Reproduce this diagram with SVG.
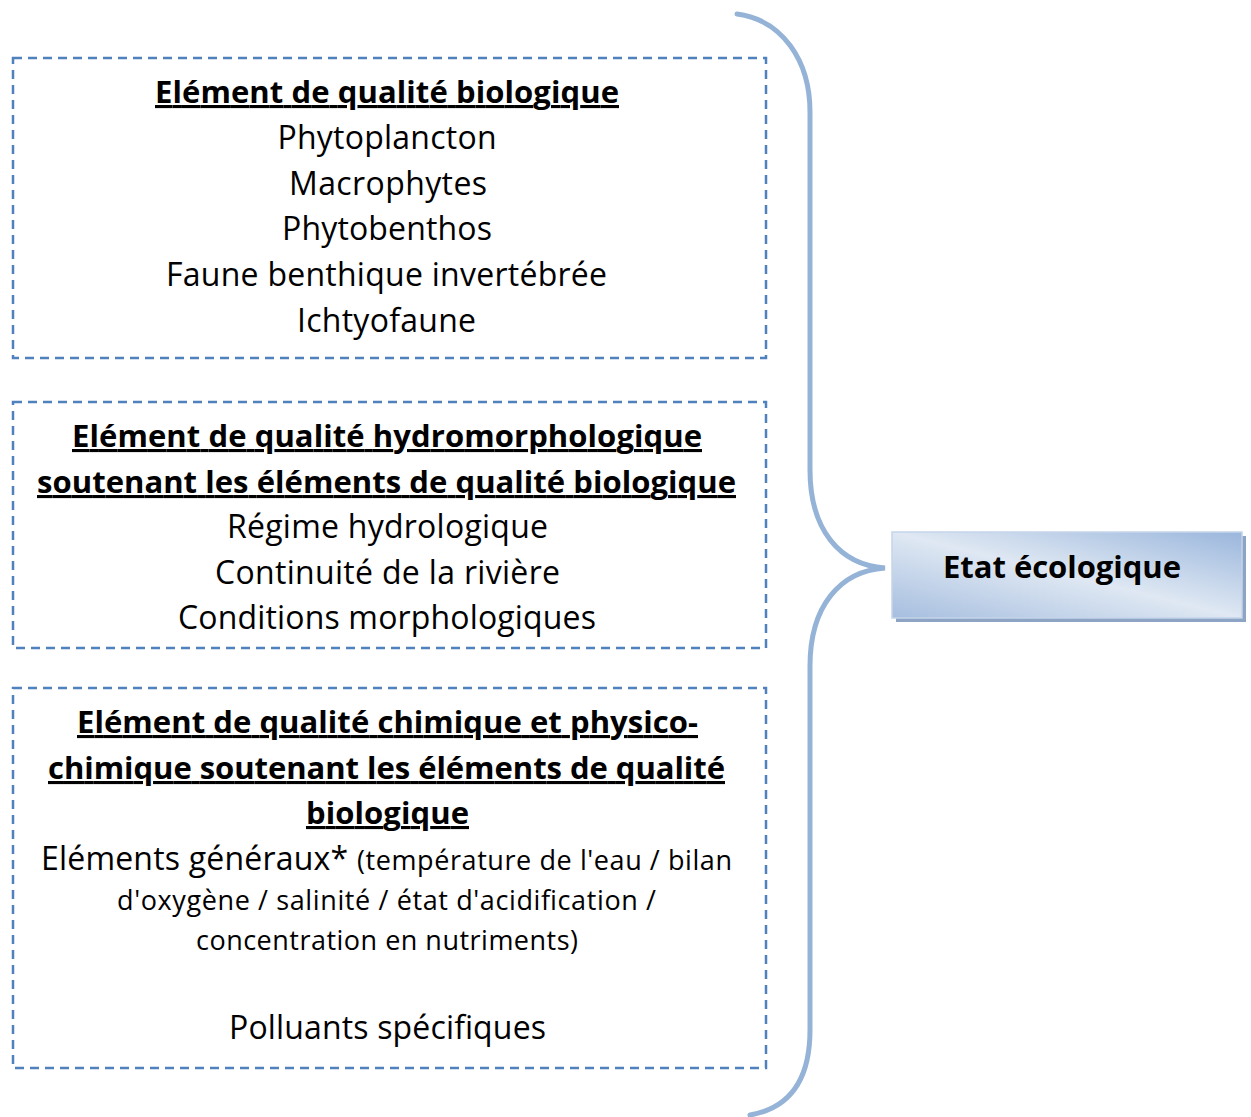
<svg xmlns="http://www.w3.org/2000/svg" width="1251" height="1117" viewBox="0 0 1251 1117">
<style>
.box{fill:none;stroke:#4F81BD;stroke-width:2.5;stroke-dasharray:9 6}
.t{font-family:"Open Sans","Noto Sans",sans-serif;font-size:32px;fill:#000;text-anchor:middle}
.s{font-family:"Open Sans","Noto Sans",sans-serif;font-size:27px;fill:#000;text-anchor:middle}
.b{font-family:"Open Sans","Noto Sans",sans-serif;font-size:31px;font-weight:bold;fill:#000;text-anchor:middle;text-decoration:underline}
.brace{fill:none;stroke:#95B3D7;stroke-width:5;stroke-linecap:round}
</style>
<defs>
<linearGradient id="g" x1="0" y1="1" x2="1" y2="0">
<stop offset="0" stop-color="#a6bedf"/>
<stop offset="0.5" stop-color="#dfe8f3"/>
<stop offset="1" stop-color="#9ab6dc"/>
</linearGradient>
</defs>
<g id="connectors">
<path class="brace" d="M737,14 C782,20 810,60 810,112 L810,470 C810,530 840,565 885,568 C840,571 810,606 810,666 L810,1030 C810,1080 790,1108 750,1115"/>
</g>
<g id="bio">
<rect class="box" x="13" y="58" width="753" height="300"/>
<text class="b" x="387" y="103" textLength="464">Elément de qualité biologique</text>
<text class="t" x="387" y="149" textLength="219">Phytoplancton</text>
<text class="t" x="388" y="195" textLength="198">Macrophytes</text>
<text class="t" x="387" y="240" textLength="210">Phytobenthos</text>
<text class="t" x="386.5" y="286" textLength="441">Faune benthique invertébrée</text>
<text class="t" x="386.5" y="332" textLength="179">Ichtyofaune</text>
</g>
<g id="hydro">
<rect class="box" x="13" y="402" width="753" height="246"/>
<text class="b" x="387" y="447" textLength="630">Elément de qualité hydromorphologique</text>
<text class="b" x="386.5" y="493" textLength="699">soutenant les éléments de qualité biologique</text>
<text class="t" x="387.5" y="538" textLength="321">Régime hydrologique</text>
<text class="t" x="387.5" y="584" textLength="345">Continuité de la rivière</text>
<text class="t" x="387" y="629" textLength="418">Conditions morphologiques</text>
</g>
<g id="chim">
<rect class="box" x="13" y="688" width="753" height="380"/>
<text class="b" x="387.5" y="733" textLength="621">Elément de qualité chimique et physico-</text>
<text class="b" x="386.5" y="779" textLength="677">chimique soutenant les éléments de qualité</text>
<text class="b" x="387.5" y="824" textLength="163">biologique</text>
<text class="t" x="194.5" y="870" textLength="307">Eléments généraux*</text>
<text class="s" x="544.5" y="870" textLength="375">(température de l'eau / bilan</text>
<text class="s" x="386.5" y="910" textLength="539">d'oxygène / salinité / état d'acidification /</text>
<text class="s" x="387" y="950" textLength="382">concentration en nutriments)</text>
<text class="t" x="387.5" y="1039" textLength="317">Polluants spécifiques</text>
</g>
<g id="etat">
<rect x="896" y="536" width="350" height="86" fill="#8ea4c4"/>
<rect x="892" y="532" width="350" height="86" fill="url(#g)" stroke="#c5d5ea" stroke-width="1.5"/>
<text x="1062" y="578" font-family="'Open Sans','Noto Sans',sans-serif" font-size="31" font-weight="bold" text-anchor="middle" textLength="238">Etat écologique</text>
</g>
</svg>
